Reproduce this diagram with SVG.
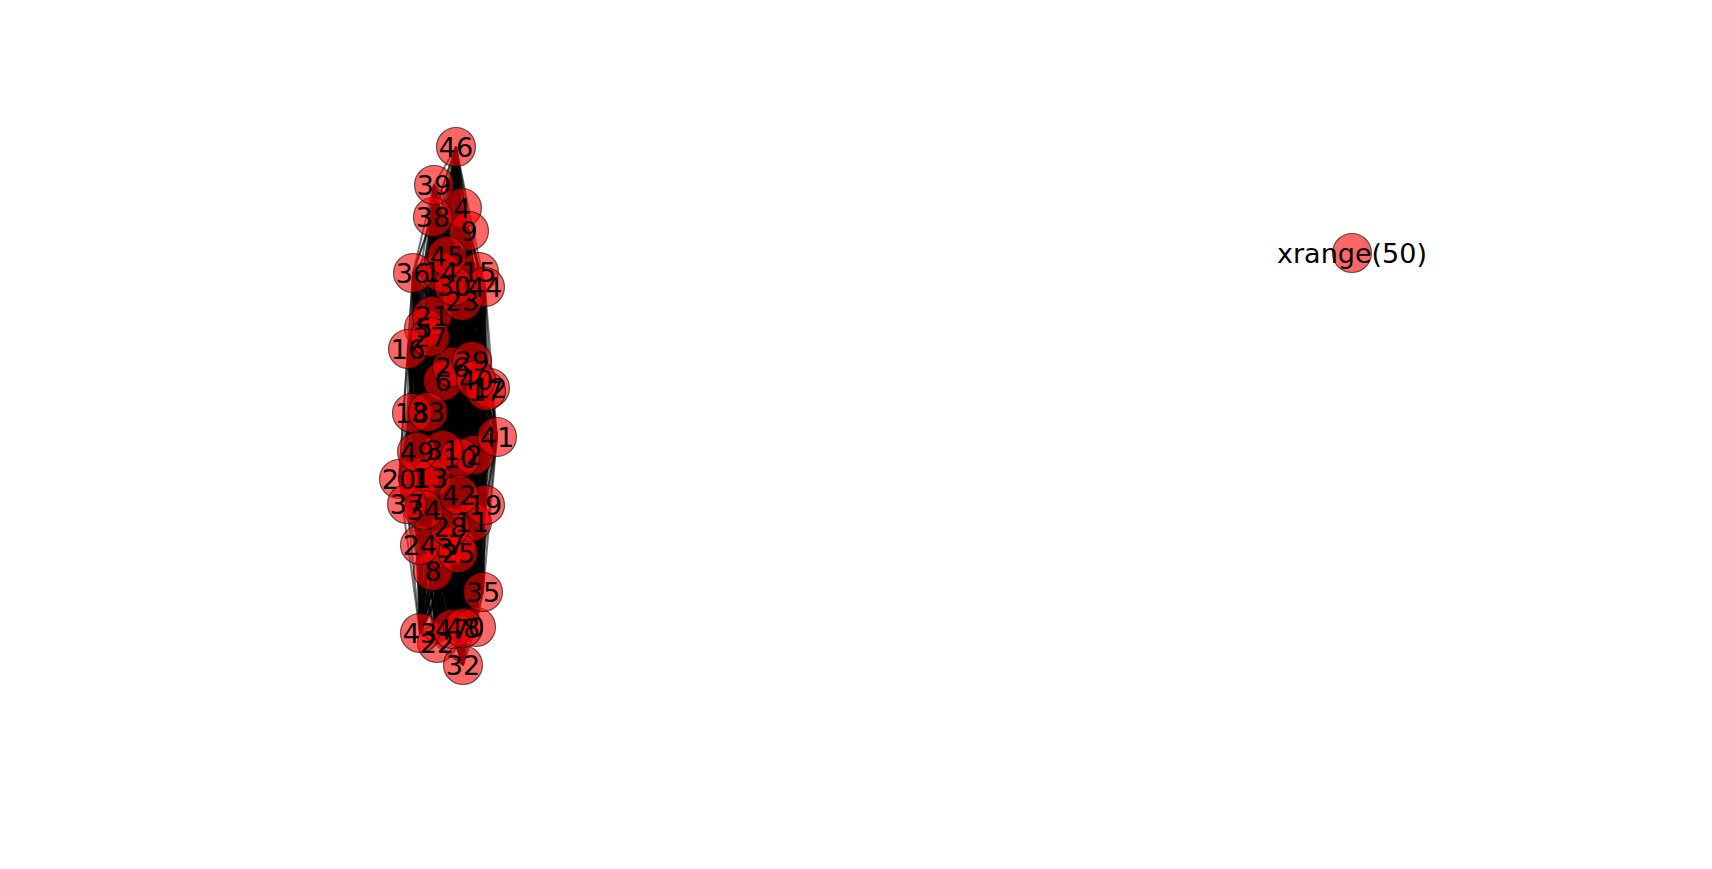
<svg xmlns="http://www.w3.org/2000/svg" width="1712" height="869" viewBox="0 0 1712 869">
<style>
.e{fill:none;stroke:#000;stroke-width:2;stroke-opacity:0.55;stroke-linejoin:round}
.n circle{fill:#ff0000;fill-opacity:0.6;stroke:#000;stroke-opacity:0.6;stroke-width:1.2}
.t{font-family:"DejaVu Sans",sans-serif;font-size:27px;fill:#000;text-anchor:middle}
</style>
<rect width="1712" height="869" fill="#fff"/>
<g id="edges">
<polyline class="e" points="476,627 420,478 417,452 474,455 463,628 445,548 452,629 462,208 456,147 424,328 447,256 443,381 485,287 456,545 420,633 433,571 459,495 469,231 497,437 460,458 476,380 472,522 434,185 490,388 433,217 431,478 407,504 441,272 413,273 479,272 483,592 408,349 424,510 486,391 428,412 412,413 463,665 485,505 443,450 399,479 454,286 432,316 472,361 437,643 450,527 462,301 430,337 420,545 452,367 458,553"/>
<polyline class="e" points="420,478 474,455 476,627 445,548 417,452 462,208 463,628 424,328 452,629 443,381 456,147 456,545 447,256 433,571 485,287 469,231 420,633 460,458 459,495 472,522 497,437 490,388 476,380 431,478 434,185 441,272 433,217 479,272 407,504 408,349 413,273 486,391 483,592 412,413 424,510 485,505 428,412 399,479 463,665 432,316 443,450 437,643 454,286 462,301 472,361 420,545 450,527 458,553 430,337 452,367"/>
<polyline class="e" points="474,455 445,548 420,478 462,208 476,627 424,328 417,452 443,381 463,628 456,545 452,629 433,571 456,147 469,231 447,256 460,458 485,287 472,522 420,633 490,388 459,495 431,478 497,437 441,272 476,380 479,272 434,185 408,349 433,217 486,391 407,504 412,413 413,273 485,505 483,592 399,479 424,510 432,316 428,412 437,643 463,665 462,301 443,450 420,545 454,286 458,553 472,361 452,367 450,527 430,337"/>
<polyline class="e" points="445,548 462,208 474,455 424,328 420,478 443,381 476,627 456,545 417,452 433,571 463,628 469,231 452,629 460,458 456,147 472,522 447,256 490,388 485,287 431,478 420,633 441,272 459,495 479,272 497,437 408,349 476,380 486,391 434,185 412,413 433,217 485,505 407,504 399,479 413,273 432,316 483,592 437,643 424,510 462,301 428,412 420,545 463,665 458,553 443,450 452,367 454,286 430,337 472,361 450,527"/>
<polyline class="e" points="462,208 424,328 445,548 443,381 474,455 456,545 420,478 433,571 476,627 469,231 417,452 460,458 463,628 472,522 452,629 490,388 456,147 431,478 447,256 441,272 485,287 479,272 420,633 408,349 459,495 486,391 497,437 412,413 476,380 485,505 434,185 399,479 433,217 432,316 407,504 437,643 413,273 462,301 483,592 420,545 424,510 458,553 428,412 452,367 463,665 430,337 443,450 450,527 454,286 472,361"/>
<polyline class="e" points="424,328 443,381 462,208 456,545 445,548 433,571 474,455 469,231 420,478 460,458 476,627 472,522 417,452 490,388 463,628 431,478 452,629 441,272 456,147 479,272 447,256 408,349 485,287 486,391 420,633 412,413 459,495 485,505 497,437 399,479 476,380 432,316 434,185 437,643 433,217 462,301 407,504 420,545 413,273 458,553 483,592 452,367 424,510 430,337 428,412 450,527 463,665 472,361 443,450 454,286"/>
<polyline class="e" points="443,381 456,545 424,328 433,571 462,208 469,231 445,548 460,458 474,455 472,522 420,478 490,388 476,627 431,478 417,452 441,272 463,628 479,272 452,629 408,349 456,147 486,391 447,256 412,413 485,287 485,505 420,633 399,479 459,495 432,316 497,437 437,643 476,380 462,301 434,185 420,545 433,217 458,553 407,504 452,367 413,273 430,337 483,592 450,527 424,510 472,361 428,412 454,286 463,665 443,450"/>
<polyline class="e" points="456,545 433,571 443,381 469,231 424,328 460,458 462,208 472,522 445,548 490,388 474,455 431,478 420,478 441,272 476,627 479,272 417,452 408,349 463,628 486,391 452,629 412,413 456,147 485,505 447,256 399,479 485,287 432,316 420,633 437,643 459,495 462,301 497,437 420,545 476,380 458,553 434,185 452,367 433,217 430,337 407,504 450,527 413,273 472,361 483,592 454,286 424,510 443,450 428,412 463,665"/>
<polyline class="e" points="433,571 469,231 456,545 460,458 443,381 472,522 424,328 490,388 462,208 431,478 445,548 441,272 474,455 479,272 420,478 408,349 476,627 486,391 417,452 412,413 463,628 485,505 452,629 399,479 456,147 432,316 447,256 437,643 485,287 462,301 420,633 420,545 459,495 458,553 497,437 452,367 476,380 430,337 434,185 450,527 433,217 472,361 407,504 454,286 413,273 443,450 483,592 463,665 424,510 428,412"/>
<polyline class="e" points="469,231 460,458 433,571 472,522 456,545 490,388 443,381 431,478 424,328 441,272 462,208 479,272 445,548 408,349 474,455 486,391 420,478 412,413 476,627 485,505 417,452 399,479 463,628 432,316 452,629 437,643 456,147 462,301 447,256 420,545 485,287 458,553 420,633 452,367 459,495 430,337 497,437 450,527 476,380 472,361 434,185 454,286 433,217 443,450 407,504 463,665 413,273 428,412 483,592 424,510"/>
<polyline class="e" points="460,458 472,522 469,231 490,388 433,571 431,478 456,545 441,272 443,381 479,272 424,328 408,349 462,208 486,391 445,548 412,413 474,455 485,505 420,478 399,479 476,627 432,316 417,452 437,643 463,628 462,301 452,629 420,545 456,147 458,553 447,256 452,367 485,287 430,337 420,633 450,527 459,495 472,361 497,437 454,286 476,380 443,450 434,185 463,665 433,217 428,412 407,504 424,510 413,273 483,592"/>
<polyline class="e" points="472,522 490,388 460,458 431,478 469,231 441,272 433,571 479,272 456,545 408,349 443,381 486,391 424,328 412,413 462,208 485,505 445,548 399,479 474,455 432,316 420,478 437,643 476,627 462,301 417,452 420,545 463,628 458,553 452,629 452,367 456,147 430,337 447,256 450,527 485,287 472,361 420,633 454,286 459,495 443,450 497,437 463,665 476,380 428,412 434,185 424,510 433,217 483,592 407,504 413,273"/>
<polyline class="e" points="490,388 431,478 472,522 441,272 460,458 479,272 469,231 408,349 433,571 486,391 456,545 412,413 443,381 485,505 424,328 399,479 462,208 432,316 445,548 437,643 474,455 462,301 420,478 420,545 476,627 458,553 417,452 452,367 463,628 430,337 452,629 450,527 456,147 472,361 447,256 454,286 485,287 443,450 420,633 463,665 459,495 428,412 497,437 424,510 476,380 483,592 434,185 413,273 433,217 407,504"/>
<polyline class="e" points="431,478 441,272 490,388 479,272 472,522 408,349 460,458 486,391 469,231 412,413 433,571 485,505 456,545 399,479 443,381 432,316 424,328 437,643 462,208 462,301 445,548 420,545 474,455 458,553 420,478 452,367 476,627 430,337 417,452 450,527 463,628 472,361 452,629 454,286 456,147 443,450 447,256 463,665 485,287 428,412 420,633 424,510 459,495 483,592 497,437 413,273 476,380 407,504 434,185 433,217"/>
<polyline class="e" points="441,272 479,272 431,478 408,349 490,388 486,391 472,522 412,413 460,458 485,505 469,231 399,479 433,571 432,316 456,545 437,643 443,381 462,301 424,328 420,545 462,208 458,553 445,548 452,367 474,455 430,337 420,478 450,527 476,627 472,361 417,452 454,286 463,628 443,450 452,629 463,665 456,147 428,412 447,256 424,510 485,287 483,592 420,633 413,273 459,495 407,504 497,437 433,217 476,380 434,185"/>
<polyline class="e" points="479,272 408,349 441,272 486,391 431,478 412,413 490,388 485,505 472,522 399,479 460,458 432,316 469,231 437,643 433,571 462,301 456,545 420,545 443,381 458,553 424,328 452,367 462,208 430,337 445,548 450,527 474,455 472,361 420,478 454,286 476,627 443,450 417,452 463,665 463,628 428,412 452,629 424,510 456,147 483,592 447,256 413,273 485,287 407,504 420,633 433,217 459,495 434,185 497,437 476,380"/>
<polyline class="e" points="408,349 486,391 479,272 412,413 441,272 485,505 431,478 399,479 490,388 432,316 472,522 437,643 460,458 462,301 469,231 420,545 433,571 458,553 456,545 452,367 443,381 430,337 424,328 450,527 462,208 472,361 445,548 454,286 474,455 443,450 420,478 463,665 476,627 428,412 417,452 424,510 463,628 483,592 452,629 413,273 456,147 407,504 447,256 433,217 485,287 434,185 420,633 476,380 459,495 497,437"/>
<polyline class="e" points="486,391 412,413 408,349 485,505 479,272 399,479 441,272 432,316 431,478 437,643 490,388 462,301 472,522 420,545 460,458 458,553 469,231 452,367 433,571 430,337 456,545 450,527 443,381 472,361 424,328 454,286 462,208 443,450 445,548 463,665 474,455 428,412 420,478 424,510 476,627 483,592 417,452 413,273 463,628 407,504 452,629 433,217 456,147 434,185 447,256 476,380 485,287 497,437 420,633 459,495"/>
<polyline class="e" points="412,413 485,505 486,391 399,479 408,349 432,316 479,272 437,643 441,272 462,301 431,478 420,545 490,388 458,553 472,522 452,367 460,458 430,337 469,231 450,527 433,571 472,361 456,545 454,286 443,381 443,450 424,328 463,665 462,208 428,412 445,548 424,510 474,455 483,592 420,478 413,273 476,627 407,504 417,452 433,217 463,628 434,185 452,629 476,380 456,147 497,437 447,256 459,495 485,287 420,633"/>
<polyline class="e" points="485,505 399,479 412,413 432,316 486,391 437,643 408,349 462,301 479,272 420,545 441,272 458,553 431,478 452,367 490,388 430,337 472,522 450,527 460,458 472,361 469,231 454,286 433,571 443,450 456,545 463,665 443,381 428,412 424,328 424,510 462,208 483,592 445,548 413,273 474,455 407,504 420,478 433,217 476,627 434,185 417,452 476,380 463,628 497,437 452,629 459,495 456,147 420,633 447,256 485,287"/>
<polyline class="e" points="399,479 432,316 485,505 437,643 412,413 462,301 486,391 420,545 408,349 458,553 479,272 452,367 441,272 430,337 431,478 450,527 490,388 472,361 472,522 454,286 460,458 443,450 469,231 463,665 433,571 428,412 456,545 424,510 443,381 483,592 424,328 413,273 462,208 407,504 445,548 433,217 474,455 434,185 420,478 476,380 476,627 497,437 417,452 459,495 463,628 420,633 452,629 485,287 456,147 447,256"/>
<polyline class="e" points="432,316 437,643 399,479 462,301 485,505 420,545 412,413 458,553 486,391 452,367 408,349 430,337 479,272 450,527 441,272 472,361 431,478 454,286 490,388 443,450 472,522 463,665 460,458 428,412 469,231 424,510 433,571 483,592 456,545 413,273 443,381 407,504 424,328 433,217 462,208 434,185 445,548 476,380 474,455 497,437 420,478 459,495 476,627 420,633 417,452 485,287 463,628 447,256 452,629 456,147"/>
<polyline class="e" points="437,643 462,301 432,316 420,545 399,479 458,553 485,505 452,367 412,413 430,337 486,391 450,527 408,349 472,361 479,272 454,286 441,272 443,450 431,478 463,665 490,388 428,412 472,522 424,510 460,458 483,592 469,231 413,273 433,571 407,504 456,545 433,217 443,381 434,185 424,328 476,380 462,208 497,437 445,548 459,495 474,455 420,633 420,478 485,287 476,627 447,256 417,452 456,147 463,628 452,629"/>
<polyline class="e" points="462,301 420,545 437,643 458,553 432,316 452,367 399,479 430,337 485,505 450,527 412,413 472,361 486,391 454,286 408,349 443,450 479,272 463,665 441,272 428,412 431,478 424,510 490,388 483,592 472,522 413,273 460,458 407,504 469,231 433,217 433,571 434,185 456,545 476,380 443,381 497,437 424,328 459,495 462,208 420,633 445,548 485,287 474,455 447,256 420,478 456,147 476,627 452,629 417,452 463,628"/>
<polyline class="e" points="420,545 458,553 462,301 452,367 437,643 430,337 432,316 450,527 399,479 472,361 485,505 454,286 412,413 443,450 486,391 463,665 408,349 428,412 479,272 424,510 441,272 483,592 431,478 413,273 490,388 407,504 472,522 433,217 460,458 434,185 469,231 476,380 433,571 497,437 456,545 459,495 443,381 420,633 424,328 485,287 462,208 447,256 445,548 456,147 474,455 452,629 420,478 463,628 476,627 417,452"/>
</g>
<g id="node-0" class="n"><circle cx="476" cy="627" r="19.5"/></g>
<g id="node-1" class="n"><circle cx="420" cy="478" r="19.5"/></g>
<g id="node-2" class="n"><circle cx="474" cy="455" r="19.5"/></g>
<g id="node-3" class="n"><circle cx="445" cy="548" r="19.5"/></g>
<g id="node-4" class="n"><circle cx="462" cy="208" r="19.5"/></g>
<g id="node-5" class="n"><circle cx="424" cy="328" r="19.5"/></g>
<g id="node-6" class="n"><circle cx="443" cy="381" r="19.5"/></g>
<g id="node-7" class="n"><circle cx="456" cy="545" r="19.5"/></g>
<g id="node-8" class="n"><circle cx="433" cy="571" r="19.5"/></g>
<g id="node-9" class="n"><circle cx="469" cy="231" r="19.5"/></g>
<g id="node-10" class="n"><circle cx="460" cy="458" r="19.5"/></g>
<g id="node-11" class="n"><circle cx="472" cy="522" r="19.5"/></g>
<g id="node-12" class="n"><circle cx="490" cy="388" r="19.5"/></g>
<g id="node-13" class="n"><circle cx="431" cy="478" r="19.5"/></g>
<g id="node-14" class="n"><circle cx="441" cy="272" r="19.5"/></g>
<g id="node-15" class="n"><circle cx="479" cy="272" r="19.5"/></g>
<g id="node-16" class="n"><circle cx="408" cy="349" r="19.5"/></g>
<g id="node-17" class="n"><circle cx="486" cy="391" r="19.5"/></g>
<g id="node-18" class="n"><circle cx="412" cy="413" r="19.5"/></g>
<g id="node-19" class="n"><circle cx="485" cy="505" r="19.5"/></g>
<g id="node-20" class="n"><circle cx="399" cy="479" r="19.5"/></g>
<g id="node-21" class="n"><circle cx="432" cy="316" r="19.5"/></g>
<g id="node-22" class="n"><circle cx="437" cy="643" r="19.5"/></g>
<g id="node-23" class="n"><circle cx="462" cy="301" r="19.5"/></g>
<g id="node-24" class="n"><circle cx="420" cy="545" r="19.5"/></g>
<g id="node-25" class="n"><circle cx="458" cy="553" r="19.5"/></g>
<g id="node-26" class="n"><circle cx="452" cy="367" r="19.5"/></g>
<g id="node-27" class="n"><circle cx="430" cy="337" r="19.5"/></g>
<g id="node-28" class="n"><circle cx="450" cy="527" r="19.5"/></g>
<g id="node-29" class="n"><circle cx="472" cy="361" r="19.5"/></g>
<g id="node-30" class="n"><circle cx="454" cy="286" r="19.5"/></g>
<g id="node-31" class="n"><circle cx="443" cy="450" r="19.5"/></g>
<g id="node-32" class="n"><circle cx="463" cy="665" r="19.5"/></g>
<g id="node-33" class="n"><circle cx="428" cy="412" r="19.5"/></g>
<g id="node-34" class="n"><circle cx="424" cy="510" r="19.5"/></g>
<g id="node-35" class="n"><circle cx="483" cy="592" r="19.5"/></g>
<g id="node-36" class="n"><circle cx="413" cy="273" r="19.5"/></g>
<g id="node-37" class="n"><circle cx="407" cy="504" r="19.5"/></g>
<g id="node-38" class="n"><circle cx="433" cy="217" r="19.5"/></g>
<g id="node-39" class="n"><circle cx="434" cy="185" r="19.5"/></g>
<g id="node-40" class="n"><circle cx="476" cy="380" r="19.5"/></g>
<g id="node-41" class="n"><circle cx="497" cy="437" r="19.5"/></g>
<g id="node-42" class="n"><circle cx="459" cy="495" r="19.5"/></g>
<g id="node-43" class="n"><circle cx="420" cy="633" r="19.5"/></g>
<g id="node-44" class="n"><circle cx="485" cy="287" r="19.5"/></g>
<g id="node-45" class="n"><circle cx="447" cy="256" r="19.5"/></g>
<g id="node-46" class="n"><circle cx="456" cy="147" r="19.5"/></g>
<g id="node-47" class="n"><circle cx="452" cy="629" r="19.5"/></g>
<g id="node-48" class="n"><circle cx="463" cy="628" r="19.5"/></g>
<g id="node-49" class="n"><circle cx="417" cy="452" r="19.5"/></g>
<g id="node-xrange" class="n"><circle cx="1352" cy="253" r="19.5"/></g>
<g id="labels">
<text class="t" x="476" y="637">0</text>
<text class="t" x="420" y="488">1</text>
<text class="t" x="474" y="465">2</text>
<text class="t" x="445" y="558">3</text>
<text class="t" x="462" y="218">4</text>
<text class="t" x="424" y="338">5</text>
<text class="t" x="443" y="391">6</text>
<text class="t" x="456" y="555">7</text>
<text class="t" x="433" y="581">8</text>
<text class="t" x="469" y="241">9</text>
<text class="t" x="460" y="468">10</text>
<text class="t" x="472" y="532">11</text>
<text class="t" x="490" y="398">12</text>
<text class="t" x="431" y="488">13</text>
<text class="t" x="441" y="282">14</text>
<text class="t" x="479" y="282">15</text>
<text class="t" x="408" y="359">16</text>
<text class="t" x="486" y="401">17</text>
<text class="t" x="412" y="423">18</text>
<text class="t" x="485" y="515">19</text>
<text class="t" x="399" y="489">20</text>
<text class="t" x="432" y="326">21</text>
<text class="t" x="437" y="653">22</text>
<text class="t" x="462" y="311">23</text>
<text class="t" x="420" y="555">24</text>
<text class="t" x="458" y="563">25</text>
<text class="t" x="452" y="377">26</text>
<text class="t" x="430" y="347">27</text>
<text class="t" x="450" y="537">28</text>
<text class="t" x="472" y="371">29</text>
<text class="t" x="454" y="296">30</text>
<text class="t" x="443" y="460">31</text>
<text class="t" x="463" y="675">32</text>
<text class="t" x="428" y="422">33</text>
<text class="t" x="424" y="520">34</text>
<text class="t" x="483" y="602">35</text>
<text class="t" x="413" y="283">36</text>
<text class="t" x="407" y="514">37</text>
<text class="t" x="433" y="227">38</text>
<text class="t" x="434" y="195">39</text>
<text class="t" x="476" y="390">40</text>
<text class="t" x="497" y="447">41</text>
<text class="t" x="459" y="505">42</text>
<text class="t" x="420" y="643">43</text>
<text class="t" x="485" y="297">44</text>
<text class="t" x="447" y="266">45</text>
<text class="t" x="456" y="157">46</text>
<text class="t" x="452" y="639">47</text>
<text class="t" x="463" y="638">48</text>
<text class="t" x="417" y="462">49</text>
<text class="t" x="1352" y="263">xrange(50)</text>
</g>
</svg>
